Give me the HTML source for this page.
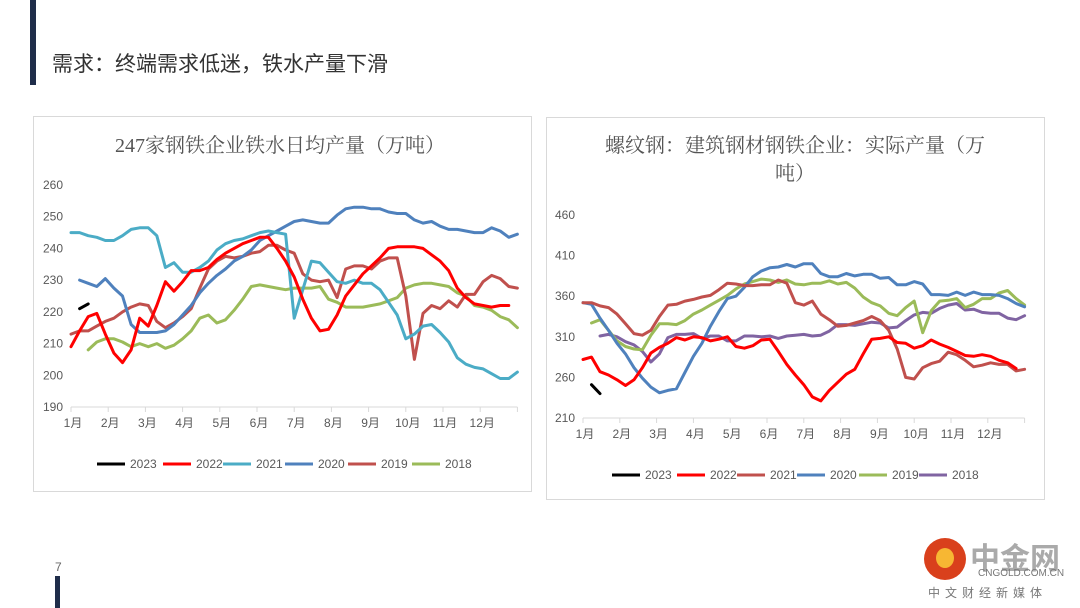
<!DOCTYPE html>
<html><head><meta charset="utf-8">
<style>
body{margin:0;width:1080px;height:608px;background:#fff;position:relative;overflow:hidden;font-family:"Liberation Sans","Noto Sans CJK SC",sans-serif;}
.abs{position:absolute;}
.panel{position:absolute;border:1px solid #d9d9d9;background:#fff;}
</style></head><body>
<div class="abs" style="left:30px;top:0;width:6px;height:85px;background:#1f2d4a"></div>
<div class="abs" style="left:52px;top:48px;font-size:21px;color:#333;">需求：终端需求低迷，铁水产量下滑</div>
<div class="panel" style="left:33px;top:116px;width:497px;height:374px"></div>
<div class="panel" style="left:546px;top:117px;width:497px;height:381px"></div>
<div class="abs" style="left:55px;top:560px;font-size:12px;color:#666">7</div>
<div class="abs" style="left:55px;top:576px;width:5px;height:32px;background:#1f2d4a"></div>
<div class="abs" style="left:922px;top:536px;width:150px;height:70px">
 <div style="position:absolute;left:2px;top:2px;width:42px;height:42px;border-radius:50%;background:#d9401c"></div>
 <div style="position:absolute;left:14px;top:12px;width:18px;height:20px;border-radius:50%;background:#f7b733"></div>
 <div style="position:absolute;left:48px;top:-2px;font-size:30px;font-weight:bold;color:#aaa">中金网</div>
 <div style="position:absolute;left:56px;top:32px;font-size:10px;color:#777">CNGOLD.COM.CN</div>
 <div style="position:absolute;left:6px;top:48px;font-size:12px;color:#777;letter-spacing:5px">中文财经新媒体</div>
</div>
<svg class="abs" style="left:0;top:0" width="1080" height="608" id="svg"></svg>
<script>
const years=['2023','2022','2021','2020','2019','2018'];
const monthLabels=['1月','2月','3月','4月','5月','6月','7月','8月','9月','10月','11月','12月'];
const c1Ticks=[190,200,210,220,230,240,250,260];
const c2Ticks=[210,260,310,360,410,460];
const n=null;
const a2023=[n,221,222.5];
const a2022=[209,214,218.5,219.5,213,207,204,208,218,215.5,222,229.5,226.5,229.5,233,233,234,236.5,238.5,240,241.5,242.5,243.5,243.5,240,236,231,224,218,214,214.5,219,225,228.5,232,234.5,237,240,240.5,240.5,240.5,240,238,236,233,227.5,224.5,222.5,222,221.5,222,222,n];
const a2021=[245,245,244,243.5,242.5,242.5,244,246,246.5,246.5,244,234,235.5,232.5,232.5,234,236,239.5,241.5,242.5,243,244,245,245.5,245,244.5,218,227,236,235.5,232.5,229.5,229,230,229,229,227,223,219,211.5,213,215.5,216,213.5,210.5,205.5,203.5,202.5,202,200.5,199,199,201];
const a2020=[n,230,229,228,230.5,227.5,225,216,213.5,213.5,213.5,214,216,219,222,226,229,231.5,233.5,236,237.5,239.5,242.5,244,245.5,247,248.5,249,248.5,248,248,250.5,252.5,253,253,252.5,252.5,251.5,251,251,249,248,248.5,247,246,246,245.5,245,245,246.5,245.5,243.5,244.5];
const a2019=[213,214,214,215.5,217,218,220,221.5,222.5,222,217,215,216.5,218.5,221,227.5,233.5,236,237.5,237,237.5,238.5,239,241,241,239.5,238.5,232,230,229.5,230,224.5,233.5,234.5,234.5,233.5,236,237,237,225,205,219.5,222,221,223.5,221.5,225.5,225.5,229.5,231.5,230.5,228,227.5];
const a2018=[n,n,208,210.5,211.5,211.5,210.5,209,210,209,210,208.5,209.5,211.5,214,218,219,216.5,217.5,220.5,224,228,228.5,228,227.5,227,227.5,227.5,227.5,228,224,223,221.5,221.5,221.5,222,222.5,223.5,224.5,227.5,228.5,229,229,228.5,228,226,225,222,221.5,220.5,218.5,217.5,215];
const b2023=[n,251,240];
const b2022=[282,285,267,263,257,250,257,272,290,297,302,309,306,310,309,305,307,310,298,296,299,306,307,292,276,263,251,236,231,244,254,264,270,289,307,308,310,303,302,296,299,306,301,297,292,287,286,288,286,281,278,271,n];
const b2021=[352,352,348,346,338,326,314,312,318,335,349,350,354,356,359,361,368,376,375,373,373,374,374,380,376,352,349,354,338,331,323,324,327,330,335,330,318,295,260,258,272,277,280,291,288,281,273,275,278,276,276,268,270];
const b2020=[352,350,333,318,302,289,272,259,248,241,244,246,266,286,302,323,341,357,360,371,384,391,395,396,399,396,400,400,388,384,384,388,385,387,387,382,383,374,374,378,375,362,362,361,365,361,365,362,362,361,357,351,347];
const b2019=[n,327,331,318,305,298,295,294,312,326,326,325,330,338,343,349,355,361,369,375,378,381,380,377,380,375,374,376,376,379,375,377,370,359,352,348,339,336,346,354,315,342,354,355,357,346,350,357,357,364,367,357,349];
const b2018=[n,n,311,313,310,304,300,292,279,289,309,313,313,314,308,311,311,305,305,311,311,310,311,308,311,312,313,311,312,317,325,325,324,326,328,327,321,322,330,337,340,339,345,349,351,343,344,340,339,339,333,331,336];
const colors=['#000000','#ff0000','#4bacc6','#4f81bd','#c0504d','#9bbb59'];
const colors2=['#000000','#ff0000','#c0504d','#4f81bd','#9bbb59','#8064a2'];
const svg=document.getElementById('svg');
const NS='http://www.w3.org/2000/svg';
function mk(tag,attrs,parent){const e=document.createElementNS(NS,tag);for(const k in attrs)e.setAttribute(k,attrs[k]);(parent||svg).appendChild(e);return e;}
function chart(cfg){
 const g=mk('g',{});
 
 
 const xs=w=>cfg.x0+w*(12/52)*cfg.mw;
 const ys=v=>cfg.yb-(v-cfg.ymin)/(cfg.ymax-cfg.ymin)*(cfg.yb-cfg.yt);
 cfg.titles.forEach((t,i)=>{const tt=mk('text',{x:cfg.tx,y:cfg.ty+i*28,'text-anchor':'middle','font-size':20,fill:'#555','font-family':'"Liberation Serif","Noto Serif CJK SC",serif'},g);tt.textContent=t;
  
  });
 cfg.ticks.forEach(v=>{const t=mk('text',{x:cfg.x0-8,y:ys(v)+4,'text-anchor':'end','font-size':12,fill:'#595959'},g);t.textContent=v;
  
  });
 mk('line',{x1:cfg.x0,x2:cfg.x0+12*cfg.mw,y1:cfg.yb,y2:cfg.yb,stroke:'#d9d9d9','stroke-width':1},g);
 for(let m=0;m<=12;m++){mk('line',{x1:cfg.x0+m*cfg.mw,x2:cfg.x0+m*cfg.mw,y1:cfg.yb,y2:cfg.yb+5,stroke:'#d9d9d9'},g);}
 monthLabels.forEach((l,m)=>{const t=mk('text',{x:cfg.x0+m*cfg.mw+2,y:cfg.yb+20,'text-anchor':'middle','font-size':12,fill:'#595959'},g);t.textContent=l;
  
  });
 const order=[5,4,3,2,1,0];
 order.forEach(i=>{const d=cfg.series[i];let segs=[],cur=[];
  d.forEach((v,w)=>{if(v==null){if(cur.length)segs.push(cur);cur=[];}else cur.push(xs(w).toFixed(1)+','+ys(v).toFixed(1));});
  if(cur.length)segs.push(cur);
  segs.forEach(s=>{const p=mk('polyline',{points:s.join(' '),fill:'none',stroke:cfg.colors[i],'stroke-width':3,'stroke-linejoin':'round','stroke-linecap':'round'},g);
   
   });});
 years.forEach((y,i)=>{const lx=cfg.lx[i];
  const ln=mk('line',{x1:lx,x2:lx+28,y1:cfg.ly,y2:cfg.ly,stroke:cfg.colors[i],'stroke-width':3},g);
  
  
  const t=mk('text',{x:lx+33,y:cfg.ly+4,'font-size':12,fill:'#595959'},g);t.textContent=y;
  
  });
}
chart({name:'iron-output-chart',x0:71,mw:37.2,yt:185,yb:407,ymin:190,ymax:260,ticks:c1Ticks,titles:['247家钢铁企业铁水日均产量（万吨）'],tx:280,ty:152,
 series:[a2023,a2022,a2021,a2020,a2019,a2018],colors:colors,lx:[97,163,223,285,348,412],ly:464});
chart({name:'rebar-output-chart',x0:583,mw:36.8,yt:215,yb:418,ymin:210,ymax:460,ticks:c2Ticks,titles:['螺纹钢：建筑钢材钢铁企业：实际产量（万','吨）'],tx:795,ty:152,
 series:[b2023,b2022,b2021,b2020,b2019,b2018],colors:colors2,lx:[612,677,737,797,859,919],ly:475});
</script>
</body></html>
